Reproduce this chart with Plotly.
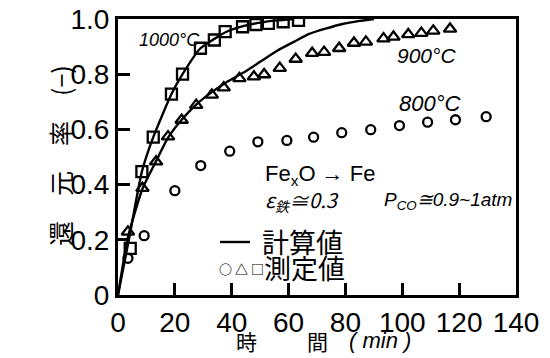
import plotly.graph_objects as go

# ---- data ----
# measured, 1000 °C (squares)
t_1000 = [4.3, 8.4, 12.4, 18.8, 22.7, 29.0, 33.9, 37.7, 43.8, 48.5, 52.9, 58.1, 63.5]
r_1000 = [0.169, 0.447, 0.572, 0.728, 0.800, 0.894, 0.924, 0.954, 0.972, 0.980, 0.984, 0.990, 0.995]
# measured, 900 °C (triangles)
t_900 = [3.5, 8.6, 13.4, 17.6, 22.4, 27.5, 33.0, 37.2, 42.7, 47.8, 51.4, 56.9, 62.5, 68.3,
         72.5, 77.8, 83.0, 87.2, 93.4, 96.9, 102.1, 106.7, 110.9, 116.8]
r_900 = [0.229, 0.387, 0.483, 0.574, 0.634, 0.688, 0.725, 0.751, 0.785, 0.791, 0.799, 0.822,
         0.855, 0.876, 0.880, 0.894, 0.913, 0.917, 0.929, 0.935, 0.944, 0.949, 0.957, 0.964]
# measured, 800 °C (circles)
t_800 = [3.5, 9.2, 20.0, 29.1, 39.3, 49.2, 59.4, 68.8, 78.7, 88.9, 99.0, 108.9, 118.7, 129.5]
r_800 = [0.133, 0.215, 0.378, 0.469, 0.521, 0.555, 0.560, 0.572, 0.588, 0.599, 0.614, 0.626,
         0.635, 0.646]
# calculated curves
tc_1000 = [0, 4.0, 8.4, 12.4, 18.8, 22.7, 29.0, 33.9, 38.0, 44.0, 50.0, 56.0, 62.0]
rc_1000 = [0, 0.21, 0.447, 0.572, 0.728, 0.800, 0.894, 0.928, 0.953, 0.974, 0.987, 0.995, 1.0]
tc_900 = [0, 3.5, 8.6, 13.4, 17.6, 22.4, 27.5, 33.0, 38.0, 44.0, 50.0, 56.0, 62.0, 67.0,
          73.0, 79.0, 85.0, 90.0]
rc_900 = [0, 0.21, 0.385, 0.485, 0.57, 0.635, 0.69, 0.735, 0.77, 0.805, 0.845, 0.885, 0.918,
          0.945, 0.965, 0.982, 0.993, 1.0]

x_ticks = [0, 20, 40, 60, 80, 100, 120, 140]
y_ticks = [0, 0.2, 0.4, 0.6, 0.8, 1.0]
y_tick_text = ["0", "0.2", "0.4", "0.6", "0.8", "1.0"]

BLACK = "black"
CJK = "Noto Sans CJK JP"
LATIN = "Liberation Sans, Arial, sans-serif"

fig = go.Figure()
for tc, rc in [(tc_1000, rc_1000), (tc_900, rc_900)]:
    fig.add_trace(go.Scatter(x=tc, y=rc, mode="lines",
                             line=dict(color=BLACK, width=2.4, shape="spline", smoothing=0.5),
                             showlegend=False, hoverinfo="skip"))

mk = dict(color=BLACK, line=dict(color=BLACK, width=2.3))
fig.add_trace(go.Scatter(x=t_1000, y=r_1000, mode="markers", showlegend=False,
                         marker=dict(symbol="square-open", size=11, **mk)))
fig.add_trace(go.Scatter(x=t_900, y=r_900, mode="markers", showlegend=False,
                         marker=dict(symbol="triangle-up-open", size=11, **mk)))
fig.add_trace(go.Scatter(x=t_800, y=r_800, mode="markers", showlegend=False,
                         marker=dict(symbol="circle-open", size=9, **mk)))

# page has an 8px body margin; plot area sits at page x 118..516, y 19..295
OFF = 8
W, H = 550 - OFF, 358 - OFF
L, R, T, B = 118 - OFF, 34, 19 - OFF, 63
PW, PH = W - L - R, H - T - B
PX0, PY0 = 118, 295  # page pixel of the plot's lower-left corner


def px(xp, yp):
    return (xp - PX0) / PW, (PY0 - yp) / PH


ann = []


def add(text, xp, yp, size, family=LATIN, xanchor="center", angle=0):
    x, y = px(xp, yp)
    ann.append(dict(text=text, x=x, y=y, xref="paper", yref="paper", showarrow=False,
                    xanchor=xanchor, yanchor="middle", textangle=angle,
                    font=dict(size=size, family=family, color=BLACK)))


add("<i>1000°C</i>", 137, 40, 18, xanchor="left")
add("<i>900°C</i>", 395, 55, 21, xanchor="left")
add("<i>800°C</i>", 397, 103, 22, xanchor="left")
add("Fe<sub>x</sub>O → Fe", 263, 175, 22, xanchor="left")
add("<i>ε<sub>鉄</sub>≅0.3</i>", 263, 200, 20, family=CJK, xanchor="left")
add("<i>P<sub>CO</sub>≅0.9~1atm</i>", 382, 201, 19, xanchor="left")
add("計算値", 260, 241, 27, family=CJK, xanchor="left")
add("<b>○ △ □</b>", 217, 268, 13, family=CJK, xanchor="left")
add("測定値", 262, 267, 27, family=CJK, xanchor="left")
add("還　元　率　(−)", 60, 156, 25, family=CJK, angle=-90)
add("時", 246, 341, 21, family=CJK)
add("間", 317, 341, 21, family=CJK)
add("<i>( min )</i>", 380, 340, 22)

x1, y1 = px(220, 242)
x2, _ = px(250, 242)
fig.add_shape(type="line", xref="paper", yref="paper", x0=x1, x1=x2, y0=y1, y1=y1,
              line=dict(color=BLACK, width=2.4))

axis_common = dict(showline=True, linecolor=BLACK, linewidth=3, mirror=True,
                   ticks="inside", ticklen=12, tickwidth=2.5, tickcolor=BLACK,
                   showgrid=False, zeroline=False, automargin=False,
                   ticklabeloverflow="allow",
                   tickfont=dict(size=28, family=LATIN, color=BLACK))
fig.update_xaxes(range=[0, 140], tickvals=x_ticks, **axis_common)
fig.update_yaxes(range=[0, 1.0], tickvals=y_ticks, ticktext=y_tick_text, **axis_common)

fig.update_layout(width=W, height=H, margin=dict(l=L, r=R, t=T, b=B),
                  paper_bgcolor="white", plot_bgcolor="white", annotations=ann)

fig.write_html("out.html")
